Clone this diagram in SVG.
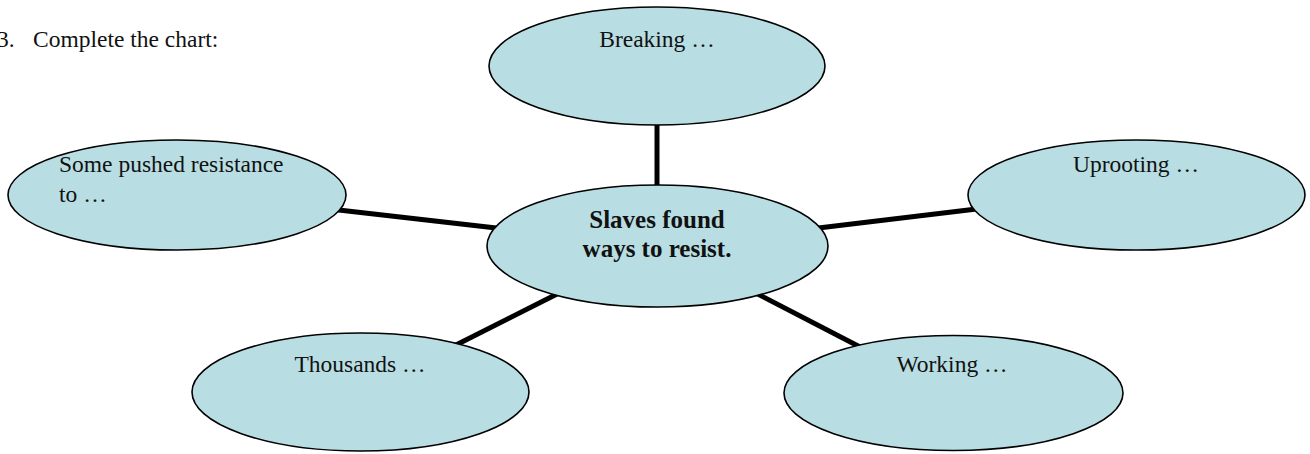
<svg xmlns="http://www.w3.org/2000/svg" width="1310" height="454" viewBox="0 0 1310 454">
<style>
.bubble{fill:#B8DEE3;stroke:#000;stroke-width:1.6}
.conn{stroke:#000;stroke-width:5;stroke-linecap:butt}
.t{font-family:"Liberation Serif","Times New Roman",serif;font-size:23.5px;fill:#111}
.b{font-family:"Liberation Serif","Times New Roman",serif;font-size:25px;font-weight:bold;fill:#111}
</style>
<rect width="1310" height="454" fill="#fff"/>
<text class="t" x="-3" y="47">3.</text>
<text class="t" x="33" y="47">Complete the chart:</text>
<g id="connectors">
<line class="conn" x1="657" y1="110" x2="657" y2="195"/>
<line class="conn" x1="330" y1="209" x2="505" y2="229"/>
<line class="conn" x1="810" y1="229" x2="985" y2="208"/>
<line class="conn" x1="565" y1="290" x2="450" y2="348"/>
<line class="conn" x1="750" y1="290" x2="862" y2="348"/>
</g>
<g id="node-breaking">
<ellipse class="bubble" cx="657" cy="66" rx="168" ry="59"/>
<text class="t" x="657" y="47" text-anchor="middle">Breaking …</text>
</g>
<g id="node-some">
<ellipse class="bubble" cx="177" cy="195" rx="169" ry="55"/>
<text class="t" x="59" y="172">Some pushed resistance</text>
<text class="t" x="59" y="202">to …</text>
</g>
<g id="node-uprooting">
<ellipse class="bubble" cx="1136.5" cy="195" rx="168.5" ry="55"/>
<text class="t" x="1136" y="172" text-anchor="middle">Uprooting …</text>
</g>
<g id="node-center">
<ellipse class="bubble" cx="657.5" cy="246" rx="170.5" ry="61"/>
<text class="b" x="657" y="228" text-anchor="middle">Slaves found</text>
<text class="b" x="657" y="257" text-anchor="middle">ways to resist.</text>
</g>
<g id="node-thousands">
<ellipse class="bubble" cx="360.5" cy="392" rx="168.5" ry="59"/>
<text class="t" x="360" y="372" text-anchor="middle">Thousands …</text>
</g>
<g id="node-working">
<ellipse class="bubble" cx="953.5" cy="393" rx="169.5" ry="57.5"/>
<text class="t" x="952" y="372" text-anchor="middle">Working …</text>
</g>
</svg>
